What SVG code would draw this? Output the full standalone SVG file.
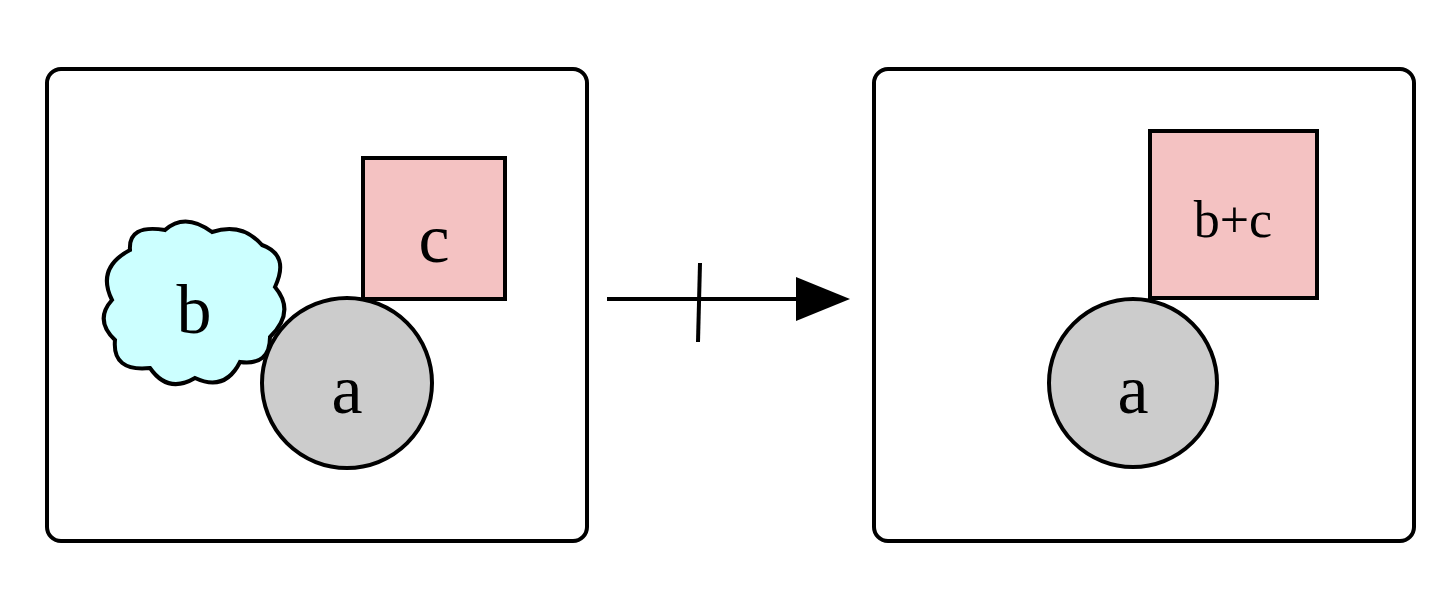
<svg xmlns="http://www.w3.org/2000/svg" width="1456" height="602" viewBox="0 0 1456 602">
<style>
.frame{fill:#fff;stroke:#000;stroke-width:4}
.s{stroke:#000;stroke-width:4}
.t{font-family:"Liberation Serif",serif;text-anchor:middle;fill:#000}
</style>
<defs><marker id="ah" markerWidth="10" markerHeight="10" refX="0" refY="5" orient="auto" markerUnits="userSpaceOnUse" viewBox="0 0 10 10"><path d="M0,0 L10,5 L0,10 Z"/></marker></defs>
<rect width="1456" height="602" fill="#fff"/>
<g id="left"><rect class="frame" x="47" y="69" width="540" height="472" rx="14"/></g>
<g id="right"><rect class="frame" x="874" y="69" width="540" height="472" rx="14"/></g>
<g id="c"><rect class="s" x="363" y="158" width="142" height="141" fill="#f4c2c2"/><text class="t" x="434" y="262" font-size="70">c</text></g>
<g id="b"><path class="s" fill="#ccffff" d="M130,250 Q128,224 165,230 Q185,212 212,232 Q242,222 262,245 Q290,255 275,287 Q296,312 270,337 Q270,366 240,362 Q225,392 195,378 Q168,394 150,368 Q112,372 115,340 Q94,320 112,300 Q96,268 130,250 Z"/><text class="t" x="194" y="333" font-size="70">b</text></g>
<g id="a"><circle class="s" cx="347" cy="383" r="85" fill="#cccccc"/><text class="t" x="347" y="413" font-size="70">a</text></g>
<g id="bc"><rect class="s" x="1150" y="131" width="167" height="167" fill="#f4c2c2"/><text class="t" x="1233" y="237" font-size="52">b+c</text></g>
<g id="a2"><circle class="s" cx="1133" cy="383" r="84" fill="#cccccc"/><text class="t" x="1133" y="413" font-size="70">a</text></g>
<g id="connectors">
<line x1="607" y1="299" x2="796" y2="299" stroke="#000" stroke-width="4"/>
<path d="M796,277 L850,299 L796,321 Z"/>
<line x1="700" y1="263" x2="698" y2="342" stroke="#000" stroke-width="4"/>
</g>
</svg>
